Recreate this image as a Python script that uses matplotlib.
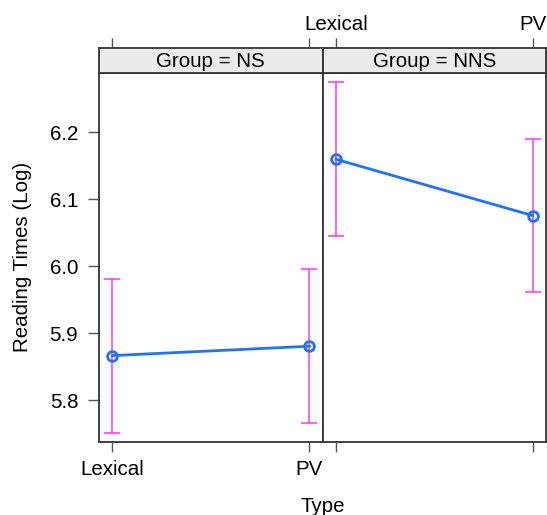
import matplotlib
matplotlib.use("Agg")
import matplotlib.pyplot as plt

plt.rcParams['font.family'] = ['Liberation Sans', 'DejaVu Sans']

types = ['Lexical', 'PV']
groups = ['NS', 'NNS']
ns_fit = [5.867, 5.881]
ns_lower = [5.752, 5.766]
ns_upper = [5.982, 5.997]
nns_fit = [6.160, 6.076]
nns_lower = [6.046, 5.962]
nns_upper = [6.275, 6.191]
y_ticks = [5.8, 5.9, 6.0, 6.1, 6.2]

fits = [ns_fit, nns_fit]
lowers = [ns_lower, nns_lower]
uppers = [ns_upper, nns_upper]

W, H = 547, 515
fig = plt.figure(figsize=(W / 100, H / 100), dpi=100)

FS = 14.8
frame_col = '#333333'
tick_col = '#555555'
blue = '#2272f2'
mag = '#ff33ff'

px = lambda x: x / W
py = lambda y: 1 - y / H

panel_left = [99, 322.7]
panel_right = [322.7, 546]
top, bottom = 73, 441.5
strip_top = 48.3

xs = [1, 2]
xlim = (0.932, 2.068)
ylim = (5.7388, 6.2888)

for i, g in enumerate(groups):
    l, r = panel_left[i], panel_right[i]
    ax = fig.add_axes([px(l), py(bottom), px(r - l), py(top) - py(bottom)])
    ax.set_xlim(*xlim)
    ax.set_ylim(*ylim)
    ax.errorbar(xs, fits[i],
                yerr=[[f - lo for f, lo in zip(fits[i], lowers[i])],
                      [u - f for f, u in zip(fits[i], uppers[i])]],
                fmt='none', ecolor=mag, elinewidth=1.1, capsize=5.8, capthick=1.1, zorder=2)
    ax.plot(xs, fits[i], color=blue, lw=2, marker='o', ms=7, mfc='none',
            mec=blue, mew=2, zorder=3)
    for s in ax.spines.values():
        s.set_color(frame_col)
        s.set_linewidth(1.3)
    ax.set_xticks(xs)
    ax.tick_params(axis='x', direction='out', length=7.5, width=1, color=tick_col,
                   labelsize=FS, pad=6)
    if i == 0:
        ax.set_xticklabels(types)
        ax.set_yticks(y_ticks)
        ax.set_yticklabels([f'{v:.1f}' for v in y_ticks])
        ax.tick_params(axis='y', direction='out', length=8, width=1, color=tick_col,
                       labelsize=FS, pad=7)
    else:
        ax.set_xticklabels(['', ''])
        ax.set_yticks([])

    # strip
    sax = fig.add_axes([px(l), py(top), px(r - l), py(strip_top) - py(top)])
    sax.set_facecolor('#ebebeb')
    sax.set_xlim(*xlim)
    sax.set_ylim(0, 1)
    sax.set_yticks([])
    for s in sax.spines.values():
        s.set_color(frame_col)
        s.set_linewidth(1.3)
    sax.text(0.5, 0.45, f'Group = {g}', transform=sax.transAxes, ha='center',
             va='center', fontsize=FS)
    sax.xaxis.tick_top()
    sax.set_xticks(xs)
    sax.tick_params(axis='x', direction='out', length=7.5, width=1, color=tick_col,
                    labelsize=FS, pad=3)
    if i == 1:
        sax.set_xticklabels(types)
    else:
        sax.set_xticklabels(['', ''])

fig.text(px(322.5), py(507), 'Type', ha='center', va='center', fontsize=FS)
fig.text(px(23), py(257), 'Reading Times (Log)', ha='center', va='center',
         rotation=90, fontsize=FS)

fig.savefig('out.png', dpi=100)
